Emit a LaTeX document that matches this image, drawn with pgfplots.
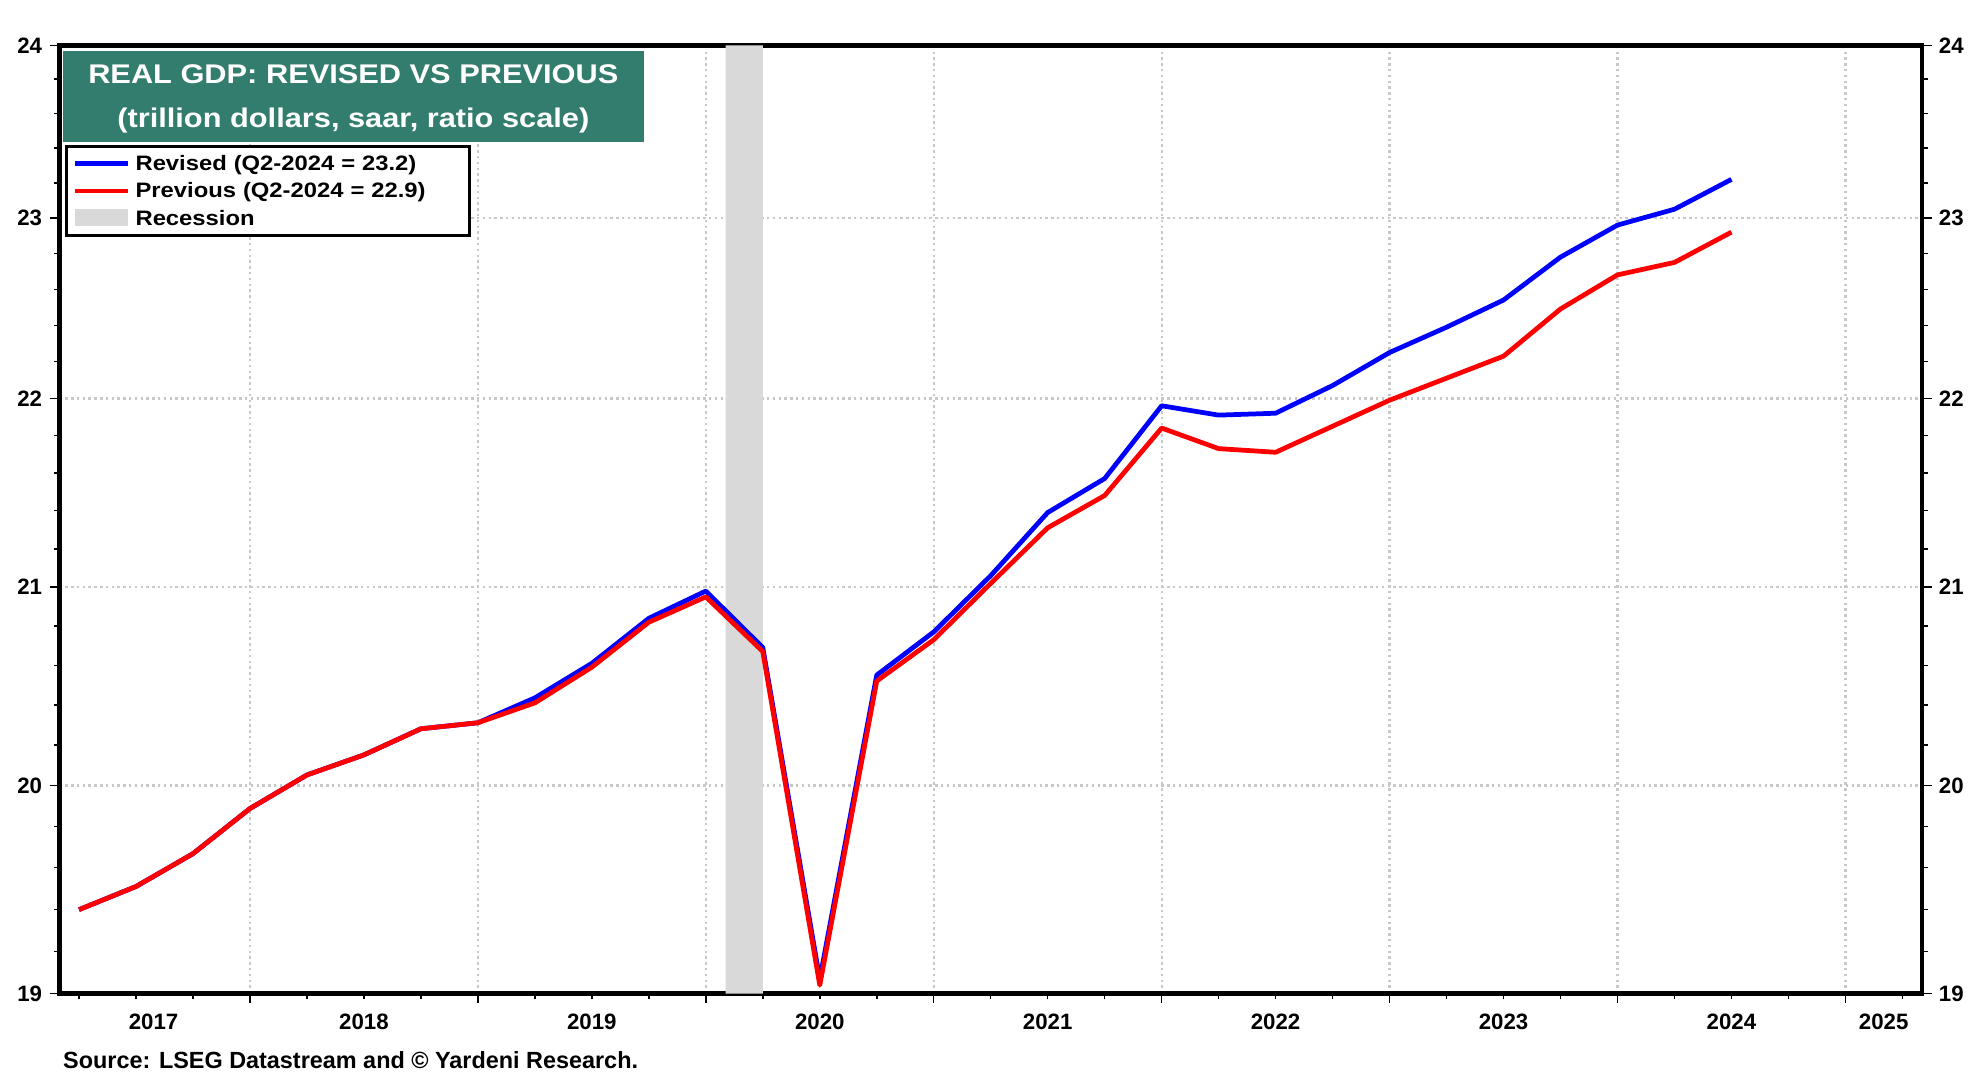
\documentclass[border=0pt]{standalone}
\usepackage{fontspec}
\setmainfont{Liberation Sans}
\newfontfamily\widefont{Liberation Sans}[FakeStretch=1.14]
\usepackage{pgfplots}
\pgfplotsset{compat=1.18}
\usepackage{pgfplotstable}

\definecolor{teal1}{RGB}{50,125,110}
\definecolor{recgray}{RGB}{217,217,217}
\definecolor{gridgray}{RGB}{200,200,200}

\pgfplotstableread{
year rev prev
2017.25 19.40 19.40
2017.50 19.51 19.51
2017.75 19.67 19.67
2018.00 19.89 19.89
2018.25 20.05 20.05
2018.50 20.15 20.15
2018.75 20.28 20.28
2019.00 20.31 20.31
2019.25 20.435 20.41
2019.50 20.61 20.59
2019.75 20.84 20.82
2020.00 20.98 20.95
2020.25 20.69 20.67
2020.50 19.07 19.04
2020.75 20.55 20.52
2021.00 20.77 20.73
2021.25 21.06 21.02
2021.50 21.39 21.31
2021.75 21.57 21.48
2022.00 21.96 21.84
2022.25 21.91 21.73
2022.50 21.92 21.71
2022.75 22.07 21.85
2023.00 22.25 21.99
2023.25 22.39 22.11
2023.50 22.54 22.23
2023.75 22.78 22.49
2024.00 22.96 22.68
2024.25 23.05 22.75
2024.50 23.22 22.92
}\gdp

\newcommand{\tickfont}{\fontsize{6.33}{7}\selectfont\bfseries}

\begin{document}
\begin{tikzpicture}
\path[use as bounding box] (0,0) rectangle (198mm,108mm);
\begin{axis}[
  at={(5.94mm,8.62mm)}, anchor=south west,
  scale only axis, width=186.26mm, height=94.83mm,
  xmin=2017.164, xmax=2025.336,
  ymode=log, ymin=19, ymax=24,
  ytick={19,20,21,22,23,24}, yticklabels={19,20,21,22,23,24},
  minor ytick={19.2,19.4,19.6,19.8,20.2,20.4,20.6,20.8,21.2,21.4,21.6,21.8,22.2,22.4,22.6,22.8,23.2,23.4,23.6,23.8},
  xtick={2018,2019,2020,2021,2022,2023,2024,2025}, xticklabels={,,,,,,,,,},
  minor xtick={2017.25,2017.5,2017.75,2018.25,2018.5,2018.75,2019.25,2019.5,2019.75,2020.25,2020.5,2020.75,2021.25,2021.5,2021.75,2022.25,2022.5,2022.75,2023.25,2023.5,2023.75,2024.25,2024.5,2024.75,2025.25},
  xtick pos=left, ytick pos=left,
  tick align=outside,
  major tick length=0.95mm, minor tick length=0.55mm,
  axis line style={line width=0.45mm, black},
  tick style={black, line width=0.15mm},
  tick label style={font=\tickfont},
  yticklabel style={xshift=0.45mm},
  xmajorgrids, ymajorgrids,
  grid style={draw=gridgray, line width=0.22mm, dash pattern=on 0.25mm off 0.33mm},
  legend image post style={xscale=0.888, yshift=0.68mm, line width=0.43mm},
  legend style={at={(0.00300,0.8945)}, anchor=north west, draw=black, line width=0.3mm, fill=white,
    inner xsep=0.65mm, inner ysep=0.33mm, row sep=0pt, column sep=0.5mm,
    nodes={inner sep=0pt, anchor=base west, text height=2.0mm, text depth=0.75mm, text width=32.76mm, align=left, font=\widefont\fontsize{5.94}{7}\selectfont\bfseries}},
]
\addplot[fill=recgray, draw=none, forget plot] coordinates {(2020.087,19) (2020.087,24) (2020.25,24) (2020.25,19) (2020.087,19)};
\addplot[color=blue, line width=1.35pt, line join=round] table[x=year,y=rev]{\gdp};
\addlegendentry{Revised (Q2-2024 = 23.2)}
\addplot[color=red, line width=1.35pt, line join=round] table[x=year,y=prev]{\gdp};
\addlegendentry{Previous (Q2-2024 = 22.9)}
\addlegendimage{area legend, fill=recgray, draw opacity=0, yshift=0.2mm, yscale=0.865}
\addlegendentry{Recession}
\end{axis}
\begin{axis}[
  at={(5.94mm,8.62mm)}, anchor=south west,
  scale only axis, width=186.26mm, height=94.83mm,
  xmin=2017.164, xmax=2025.336,
  ymode=log, ymin=19, ymax=24,
  ytick={19,20,21,22,23,24}, yticklabels={19,20,21,22,23,24},
  minor ytick={19.2,19.4,19.6,19.8,20.2,20.4,20.6,20.8,21.2,21.4,21.6,21.8,22.2,22.4,22.6,22.8,23.2,23.4,23.6,23.8},
  xtick={2017.577,2018.5,2019.5,2020.5,2021.5,2022.5,2023.5,2024.5,2025.168},
  xticklabels={2017,2018,2019,2020,2021,2022,2023,2024,2025},
  axis x line*=bottom, axis y line*=right,
  x axis line style={draw=none},
  y axis line style={line width=0.45mm, black},
  tick align=outside,
  major tick length=0.95mm, minor tick length=0.55mm,
  xtick style={draw=none},
  ytick style={black, line width=0.15mm},
  tick label style={font=\tickfont},
  xticklabel style={yshift=0.15mm},
  yticklabel style={xshift=-0.5mm},
]
\addplot[draw=none] coordinates {(2018,20)};
\end{axis}
\fill[teal1] (6.25mm,93.83mm) rectangle (64.4mm,102.93mm);
\node[anchor=base, text=white, inner sep=0pt, font=\widefont\fontsize{7.68}{9}\selectfont\bfseries] at (35.33mm,99.67mm) {REAL GDP: REVISED VS PREVIOUS};
\node[anchor=base, text=white, inner sep=0pt, font=\widefont\fontsize{7.68}{9}\selectfont\bfseries] at (35.33mm,95.23mm) {(trillion dollars, saar, ratio scale)};
\node[anchor=base west, inner sep=0pt, font=\fontsize{6.66}{8}\selectfont\bfseries] at (6.25mm,1.17mm) {Source: LSEG Datastream and © Yardeni Research.};
\end{tikzpicture}
\end{document}
